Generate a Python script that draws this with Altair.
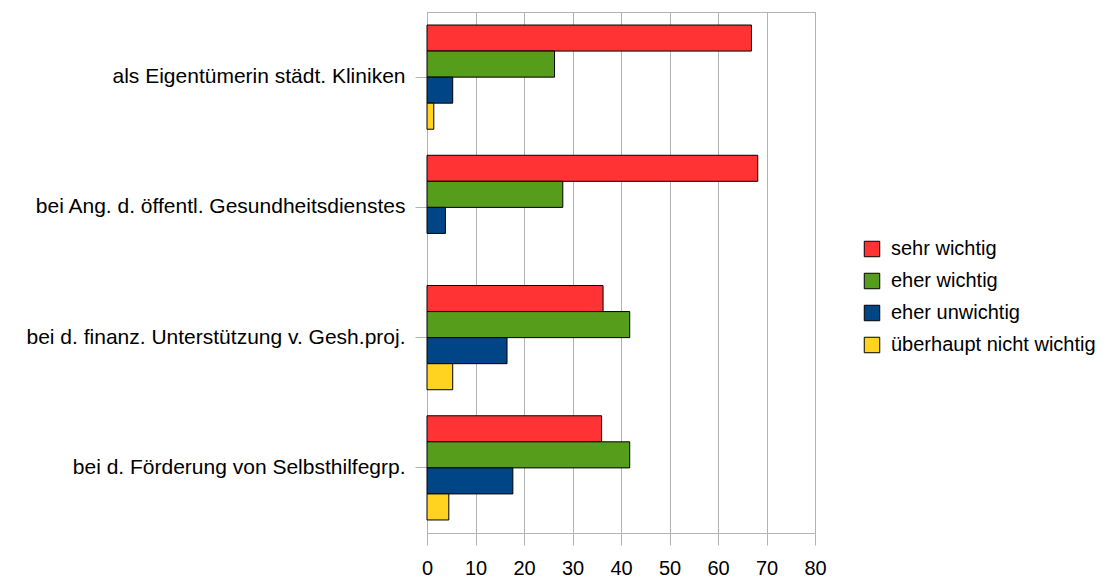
import altair as alt
import pandas as pd

categories = [
    "als Eigentümerin städt. Kliniken",
    "bei Ang. d. öffentl. Gesundheitsdienstes",
    "bei d. finanz. Unterstützung v. Gesh.proj.",
    "bei d. Förderung von Selbsthilfegrp.",
]
series = ["sehr wichtig", "eher wichtig", "eher unwichtig", "überhaupt nicht wichtig"]
sehr_wichtig = [66.9, 68.2, 36.3, 36.0]
eher_wichtig = [26.3, 28.0, 41.8, 41.8]
eher_unwichtig = [5.3, 3.8, 16.5, 17.7]
ueberhaupt_nicht = [1.4, 0.0, 5.3, 4.5]
colors = ["#ff3333", "#579d1c", "#004586", "#ffd320"]
x_ticks = [0, 10, 20, 30, 40, 50, 60, 70, 80]

rows = []
for vals, s in zip([sehr_wichtig, eher_wichtig, eher_unwichtig, ueberhaupt_nicht], series):
    for c, v in zip(categories, vals):
        rows.append({"Kategorie": c, "Antwort": s, "Wert": v})
df = pd.DataFrame(rows)

FONT = "Liberation Sans"

chart = alt.Chart(df).transform_filter("datum.Wert > 0").mark_bar(stroke="black", strokeWidth=1).encode(
    y=alt.Y("Kategorie:N", sort=categories, title=None,
            scale=alt.Scale(domain=categories, paddingInner=0.2, paddingOuter=0.1),
            axis=alt.Axis(labelFont=FONT, labelFontSize=21, labelColor="#000000",
                          labelPadding=10, tickSize=12, tickColor="#b3b3b3",
                          domainColor="#b3b3b3", labelLimit=500,
                          minExtent=418.5, maxExtent=418.5)),
    yOffset=alt.YOffset("Antwort:N", sort=series,
                        scale=alt.Scale(domain=series, paddingInner=0, paddingOuter=0)),
    x=alt.X("Wert:Q", title=None,
            scale=alt.Scale(domain=[0, 80], nice=False),
            axis=alt.Axis(values=x_ticks, labelFont=FONT, labelFontSize=20,
                          labelColor="#000000", labelPadding=13, tickSize=12,
                          labelFlush=False, labelOverlap=False,
                          tickColor="#b3b3b3", domainColor="#b3b3b3",
                          gridColor="#b3b3b3", grid=True)),
    color=alt.Color("Antwort:N", sort=series,
                    scale=alt.Scale(domain=series, range=colors),
                    legend=alt.Legend(title=None, orient="none", legendX=435, legendY=227,
                                      symbolType="square", symbolSize=240,
                                      symbolStrokeColor="black", symbolStrokeWidth=1,
                                      labelFont=FONT, labelFontSize=20, labelColor="#000000",
                                      labelOffset=9, rowPadding=12, padding=0,
                                      labelLimit=400, symbolOpacity=1)),
).properties(
    width=388, height=521,
    padding={"left": 0, "top": 4, "right": 5, "bottom": 5},
).configure_view(stroke="#b3b3b3", strokeWidth=1).configure_axis(gridWidth=1)

chart.save("out.html", embed_options={"renderer": "svg", "actions": False})
